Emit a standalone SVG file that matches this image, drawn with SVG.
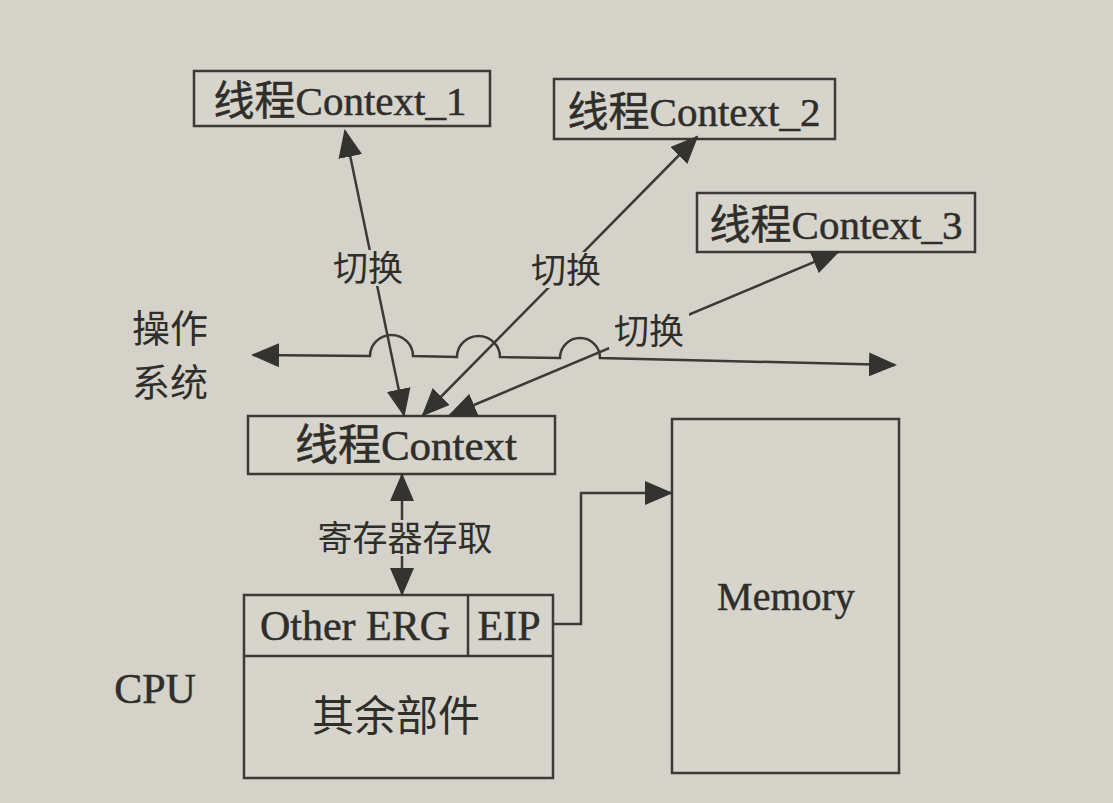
<svg xmlns="http://www.w3.org/2000/svg" width="1113" height="803" viewBox="0 0 1113 803">
<style>
.box{fill:#d6d4cb;stroke:#3a3a36;stroke-width:2.5}
.ln{fill:none;stroke:#3a3a36;stroke-width:2.5}
.t{font-family:"Liberation Serif","Noto Sans CJK SC",serif;fill:#2e2e2b;stroke:#2e2e2b;stroke-width:0.5;text-anchor:middle}
.c{font-family:"Noto Sans CJK SC",sans-serif;fill:#2e2e2b;text-anchor:middle}
.bg{fill:#d4d2c9}
</style>
<defs>
<marker id="ah" markerUnits="userSpaceOnUse" markerWidth="30" markerHeight="24" refX="26" refY="12" orient="auto-start-reverse" viewBox="0 0 30 24">
<path d="M0,0 L28,12 L0,24 Z" fill="#333330"/>
</marker>
</defs>
<rect width="1113" height="803" class="bg"/>
<g id="ctx1"><rect class="box" x="194" y="71" width="296" height="55"/><text class="t" x="340" y="115" font-size="41">线程Context_1</text></g>
<g id="ctx2"><rect class="box" x="554" y="79" width="281" height="60"/><text class="t" x="694" y="126" font-size="41">线程Context_2</text></g>
<g id="ctx3"><rect class="box" x="697" y="193" width="278" height="59"/><text class="t" x="836" y="239" font-size="41">线程Context_3</text></g>
<g id="ctx"><rect class="box" x="248" y="416" width="307" height="58"/><text class="t" x="406" y="460" font-size="43">线程Context</text></g>
<g id="cpu">
<rect class="box" x="244" y="595" width="309" height="183"/>
<line class="ln" x1="244" y1="656" x2="553" y2="656"/>
<line class="ln" x1="468" y1="595" x2="468" y2="656"/>
<text class="t" x="355" y="640" font-size="42">Other ERG</text>
<text class="t" x="509" y="640" font-size="42">EIP</text>
<text class="c" x="396" y="731" font-size="42">其余部件</text>
</g>
<g id="memory"><rect class="box" x="672" y="419" width="227" height="354"/><text class="t" x="786" y="610" font-size="40">Memory</text></g>
<g id="labels">
<text class="c" x="170" y="342" font-size="38">操作</text>
<text class="c" x="170" y="396" font-size="38">系统</text>
<text class="t" x="155" y="703" font-size="42">CPU</text>
</g>
<g id="connectors">
<path class="ln" d="M253,355 L370,356 A21.5,21 0 0 1 413,356 L457,357 A21.5,21 0 0 1 500,357 L560,358 A20,20 0 0 1 600,358 L895,365" marker-start="url(#ah)" marker-end="url(#ah)"/>
<line class="ln" x1="345" y1="131" x2="404" y2="415" marker-start="url(#ah)" marker-end="url(#ah)"/>
<line class="ln" x1="697" y1="137" x2="423" y2="415" marker-start="url(#ah)" marker-end="url(#ah)"/>
<line class="ln" x1="838" y1="252" x2="450" y2="415" marker-start="url(#ah)" marker-end="url(#ah)"/>
<line class="ln" x1="402" y1="475" x2="402" y2="594" marker-start="url(#ah)" marker-end="url(#ah)"/>
<path class="ln" d="M553,624 L581,624 L581,493 L671,493" marker-end="url(#ah)"/>
<rect x="328" y="250" width="80" height="36" class="bg"/>
<text class="c" x="368" y="281" font-size="35">切换</text>
<rect x="526" y="252" width="80" height="36" class="bg"/>
<text class="c" x="566" y="283" font-size="35">切换</text>
<rect x="609" y="313" width="80" height="36" class="bg"/>
<text class="c" x="649" y="344" font-size="35">切换</text>
<rect x="318" y="520" width="174" height="36" class="bg"/>
<text class="c" x="405" y="551" font-size="35">寄存器存取</text>
</g>
</svg>
